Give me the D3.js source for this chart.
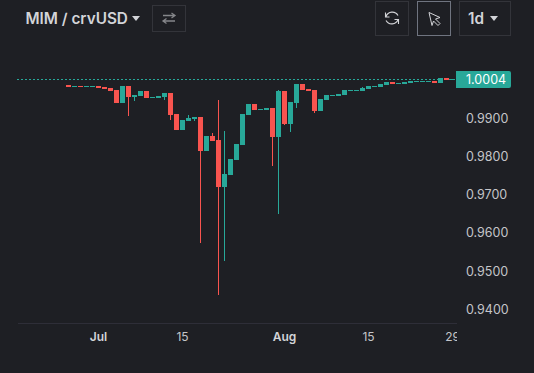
<!DOCTYPE html>
<html>
<head>
<meta charset="utf-8">
<script src="https://cdn.jsdelivr.net/npm/d3@7"></script>
<style>
  html, body { margin: 0; padding: 0; background: #1e1f24; overflow: hidden; }
  svg { display: block; font-family: Inter, "Noto Sans", sans-serif; }
</style>
</head>
<body>
<svg id="chart" width="534" height="373"></svg>
<script>
const pair = "MIM / crvUSD";
const interval = "1d";
const lastPrice = 1.0004;
const priceTicks = [0.99, 0.98, 0.97, 0.96, 0.95, 0.94];
const timeTicks = ["2023-07-01", "2023-07-15", "2023-08-01", "2023-08-15", "2023-08-29"];
const timeLabels = ["Jul", "15", "Aug", "15", "29"];

const opens = [0.99890,0.99838,0.99864,0.99838,0.99838,0.99864,0.99838,0.99812,0.99759,0.99419,
  0.99864,0.99576,0.99602,0.99733,0.99550,0.99550,0.99576,0.99681,0.99131,0.98712,
  0.98948,0.99000,0.99052,0.98162,0.98555,0.98450,0.97220,0.97534,0.97927,0.98319,
  0.99105,0.99393,0.99236,0.99236,0.99288,0.98529,0.99733,0.98869,0.99419,0.99916,
  0.99785,0.99759,0.99209,0.99497,0.99602,0.99602,0.99628,0.99733,0.99733,0.99733,
  0.99785,0.99838,0.99838,0.99890,0.99969,0.99916,0.99916,0.99942,0.99969,0.99969,
  0.99969,0.99995,0.99942,1.00073,1.00021];
const closes = [0.99838,0.99864,0.99838,0.99864,0.99864,0.99812,0.99785,0.99733,0.99419,0.99864,
  0.99576,0.99628,0.99733,0.99550,0.99576,0.99602,0.99681,0.99105,0.98712,0.98974,
  0.99026,0.99052,0.98162,0.98555,0.98424,0.97220,0.97560,0.97953,0.98346,0.99131,
  0.99393,0.99236,0.99262,0.99288,0.98529,0.99733,0.98869,0.99445,0.99916,0.99759,
  0.99733,0.99209,0.99524,0.99628,0.99628,0.99654,0.99759,0.99759,0.99759,0.99812,
  0.99864,0.99864,0.99916,0.99969,0.99916,0.99942,0.99969,0.99995,0.99995,0.99995,
  0.99995,0.99942,1.00073,1.00021,1.00047];
const highs = [0.99890,0.99864,0.99864,0.99864,0.99864,0.99864,0.99838,0.99812,0.99759,0.99864,
  0.99864,0.99628,0.99733,0.99733,0.99576,0.99602,0.99681,0.99681,0.99131,0.98974,
  0.99105,0.99052,0.99052,0.98555,0.98634,0.99497,0.98686,0.97953,0.98346,0.99131,
  0.99393,0.99393,0.99262,0.99288,0.99288,0.99759,0.99733,0.99445,0.99916,0.99916,
  0.99785,0.99759,0.99524,0.99628,0.99628,0.99654,0.99759,0.99759,0.99759,0.99838,
  0.99864,0.99864,0.99916,0.99969,0.99969,0.99942,0.99969,0.99995,0.99995,0.99995,
  0.99995,0.99995,1.00073,1.00073,1.00047];
const lows = [0.99838,0.99838,0.99838,0.99838,0.99838,0.99812,0.99785,0.99733,0.99419,0.99419,
  0.99079,0.99471,0.99602,0.99550,0.99550,0.99550,0.99497,0.98974,0.98712,0.98712,
  0.98948,0.98948,0.95754,0.98162,0.98424,0.94393,0.95283,0.97534,0.97927,0.98319,
  0.99105,0.99236,0.99236,0.99236,0.97770,0.96513,0.98843,0.98660,0.99288,0.99759,
  0.99733,0.99157,0.99209,0.99497,0.99602,0.99602,0.99628,0.99733,0.99733,0.99733,
  0.99785,0.99838,0.99838,0.99890,0.99916,0.99916,0.99916,0.99942,0.99969,0.99969,
  0.99969,0.99942,0.99942,1.00021,1.00021];

const up = "#28a899";
const down = "#f9544f";
const text = "#d3d4d8";
const tickText = "#c4c5c9";
const border = "#33343a";

const svg = d3.select("#chart");

const x = d3.scaleLinear().domain([0, opens.length - 1]).range([66, 450]);
const y = d3.scaleLinear().domain([0.94, 0.99]).range([310, 119]);
const t = d3.scaleUtc()
  .domain([new Date("2023-07-01"), new Date("2023-08-29")])
  .range([98, 452]);

svg.append("defs").append("clipPath").attr("id", "time-clip")
  .append("rect").attr("x", 18).attr("y", 324).attr("width", 439).attr("height", 40);

// last price line
svg.append("line")
  .attr("x1", 17).attr("x2", 456)
  .attr("y1", Math.round(y(lastPrice)) + 0.5).attr("y2", Math.round(y(lastPrice)) + 0.5)
  .attr("stroke", up).attr("stroke-dasharray", "2 2");

// candles
const candles = svg.append("g").selectAll("g")
  .data(d3.range(opens.length))
  .enter()
  .append("g")
  .attr("fill", i => closes[i] >= opens[i] ? up : down);

candles.append("rect")
  .attr("x", i => x(i) + 2)
  .attr("y", i => Math.round(y(highs[i])))
  .attr("width", 1)
  .attr("height", i => Math.round(y(lows[i])) - Math.round(y(highs[i])));

candles.append("rect")
  .attr("x", i => x(i))
  .attr("y", i => Math.round(y(Math.max(opens[i], closes[i]))))
  .attr("width", 5)
  .attr("height", i => Math.max(1, Math.round(y(Math.min(opens[i], closes[i]))) - Math.round(y(Math.max(opens[i], closes[i])))));

// price axis
const yAxis = svg.append("g")
  .attr("transform", "translate(466,0)")
  .call(d3.axisRight(y).tickValues(priceTicks).tickFormat(d3.format(".4f")).tickSize(0).tickPadding(0));
yAxis.select(".domain").remove();
yAxis.selectAll("text")
  .attr("font-family", "Inter").attr("font-size", 12.5).attr("fill", tickText).attr("dy", "0.27em");

// last price tag
svg.append("path")
  .attr("d", "M456,71H509a2,2 0 0 1 2,2V86a2,2 0 0 1 -2,2H456Z")
  .attr("fill", up);
svg.append("text")
  .attr("x", 466).attr("y", y(lastPrice) + 5)
  .attr("font-size", 12.5).attr("fill", "#fff")
  .text(d3.format(".4f")(lastPrice));

// time axis
svg.append("line")
  .attr("x1", 18).attr("x2", 457).attr("y1", 323.5).attr("y2", 323.5)
  .attr("stroke", "#2e2e38");

const xAxis = svg.append("g")
  .attr("clip-path", "url(#time-clip)")
  .append("g")
  .attr("transform", "translate(0,332)")
  .call(d3.axisBottom(t)
    .tickValues(timeTicks.map(d => new Date(d)))
    .tickFormat((d, i) => timeLabels[i])
    .tickSize(0).tickPadding(0));
xAxis.select(".domain").remove();
xAxis.selectAll("text")
  .attr("font-family", "Inter").attr("font-size", 12)
  .attr("fill", (d, i) => isNaN(timeLabels[i]) ? text : tickText)
  .attr("font-weight", (d, i) => isNaN(timeLabels[i]) ? 600 : 400);

// header
svg.append("text")
  .attr("x", 25.5).attr("y", 24)
  .attr("font-size", 15.3).attr("font-weight", 600).attr("fill", text)
  .text(pair);
svg.append("path").attr("d", "M132,16H140L136,21Z").attr("fill", text);

const buttons = [
  {x: 152, y: 5, w: 33, h: 26, c: border},
  {x: 375, y: 1, w: 33, h: 34, c: border},
  {x: 417, y: 1, w: 33, h: 34, c: "#6f7480"},
  {x: 459, y: 1, w: 51, h: 34, c: border}
];
svg.append("g").selectAll("rect")
  .data(buttons)
  .enter()
  .append("rect")
  .attr("x", d => d.x + 0.5)
  .attr("y", d => d.y + 0.5)
  .attr("width", d => d.w)
  .attr("height", d => d.h)
  .attr("fill", "none")
  .attr("stroke", d => d.c);

// swap icon
svg.append("path")
  .attr("d", "M163,15.5H175M171.5,13L175,15.5L171.5,18M175,21H163M166.5,18.5L163,21L166.5,23.5")
  .attr("fill", "none").attr("stroke", "#85868a").attr("stroke-width", 1.3);

// refresh icon
svg.append("path")
  .attr("d", "M398,15.5A6.6,6.6 0 0 0 386,16.5M385.5,12.5V17H389.5M386,20.5A6.6,6.6 0 0 0 398,19.5M398.5,24V19.5H394.5")
  .attr("fill", "none").attr("stroke", text).attr("stroke-width", 1.1);

// cursor icon
svg.append("path")
  .attr("d", "M429,12.5L440,17.5L435.5,19L440,23.5L438,25.5L433.5,21L432,25.5Z")
  .attr("fill", "none").attr("stroke", text).attr("stroke-width", 1);

svg.append("text")
  .attr("x", 468).attr("y", 24)
  .attr("font-size", 15.3).attr("font-weight", 600).attr("fill", text)
  .text(interval);
svg.append("path").attr("d", "M490,16H498L494,21Z").attr("fill", text);
</script>
</body>
</html>
